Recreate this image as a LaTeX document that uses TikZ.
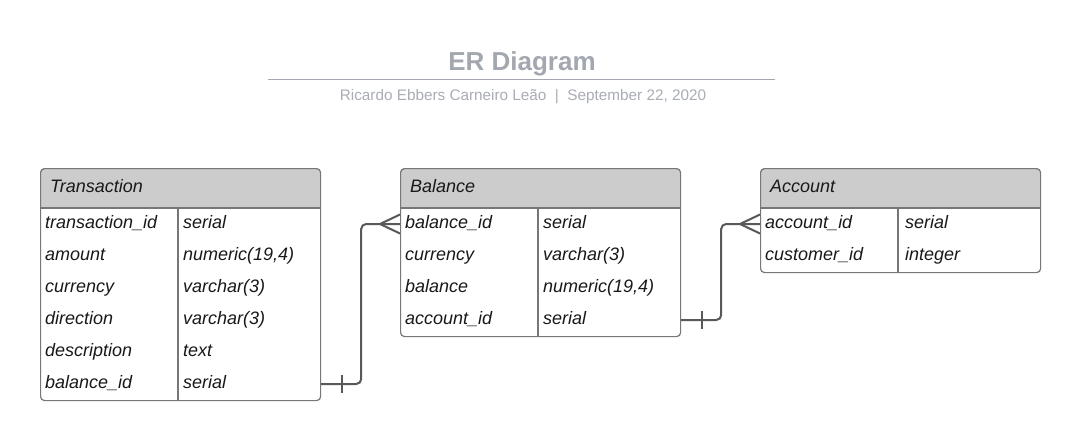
\documentclass[tikz,border=0pt]{standalone}
\usepackage{fontspec}
\setmainfont{Liberation Sans}
\usetikzlibrary{positioning,calc}
\definecolor{erline}{HTML}{595959}
\definecolor{erborder}{HTML}{777777}
\definecolor{erhead}{HTML}{CCCCCC}
\definecolor{ertitle}{HTML}{A3A8B0}
\definecolor{ersub}{HTML}{A9ADB4}
\tikzset{
  tablebox/.style={draw=erborder, line width=1.2pt, rounded corners=4pt, inner sep=0pt, anchor=north west},
  sepline/.style={draw=erborder, line width=1.2pt},
  field/.style={anchor=west, inner sep=0pt, text height=13pt, text depth=4pt, text=black!90, font=\fontsize{18}{21}\selectfont\itshape},
  rel/.style={draw=erline, line width=2pt, rounded corners=5pt},
  relend/.style={draw=erline, line width=2pt},
}
\begin{document}
\begin{tikzpicture}[x=1pt,y=-1pt]
  \useasboundingbox[fill=white] (0,0) rectangle (1080,440);
  % title block
  \node[anchor=base, text=ertitle, font=\bfseries\fontsize{26}{30}\selectfont] (title) at (522,70) {ER Diagram};
  \draw[ertitle, line width=1.5pt] (268,79.5) -- (775,79.5);
  \node[anchor=base, text=ersub, font=\fontsize{15.3}{18}\selectfont] (subtitle) at (523,100) {Ricardo Ebbers Carneiro Leão \ | \ September 22, 2020};
  % tables
  \foreach \tn/\tx/\tb/\ttitle in {trans/40/400/Transaction, bal/400/336/Balance, acct/760/272/Account} {
    \begin{scope}
      \clip[rounded corners=4pt] (\tx,168) rectangle (\tx+280,\tb);
      \fill[erhead] (\tx,168) rectangle (\tx+280,208);
    \end{scope}
    \node[tablebox, minimum width=280pt, minimum height=\tb pt-168pt] (\tn) at (\tx,168) {};
    \draw[sepline] (\tx,208) -- (\tx+280,208);
    \draw[sepline] (\tx+138,208) -- (\tx+138,\tb);
    \node[field] (\tn-title) at (\tx+10,188) {\ttitle};
  }
  \foreach \fname/\ftype [count=\i] in {transaction\_id/serial, amount/numeric(19{,}4), currency/varchar(3), direction/varchar(3), description/text, balance\_id/serial} {
    \node[field] (trans-\i) at (45,192+32*\i) {\fname};
    \node[field] (trans-\i-t) at (183,192+32*\i) {\ftype};
  }
  \foreach \fname/\ftype [count=\i] in {balance\_id/serial, currency/varchar(3), balance/numeric(19{,}4), account\_id/serial} {
    \node[field] (bal-\i) at (405,192+32*\i) {\fname};
    \node[field] (bal-\i-t) at (543,192+32*\i) {\ftype};
  }
  \foreach \fname/\ftype [count=\i] in {account\_id/serial, customer\_id/integer} {
    \node[field] (acct-\i) at (765,192+32*\i) {\fname};
    \node[field] (acct-\i-t) at (905,192+32*\i) {\ftype};
  }
  % relations
  \draw[rel] (trans.east |- trans-6) -- ++(40,0) |- (bal.west |- bal-1);
  \draw[relend] ($(bal.west |- bal-1)+(-20,0)$) -- ++(20,-9.5);
  \draw[relend] ($(bal.west |- bal-1)+(-20,0)$) -- ++(20,9.5);
  \draw[relend] ($(trans.east |- trans-6)+(21,-9)$) -- ++(0,18);
  \draw[rel] (bal.east |- bal-4) -- ++(40,0) |- (acct.west |- acct-1);
  \draw[relend] ($(acct.west |- acct-1)+(-20,0)$) -- ++(20,-9.5);
  \draw[relend] ($(acct.west |- acct-1)+(-20,0)$) -- ++(20,9.5);
  \draw[relend] ($(bal.east |- bal-4)+(21,-9)$) -- ++(0,18);
\end{tikzpicture}
\end{document}
